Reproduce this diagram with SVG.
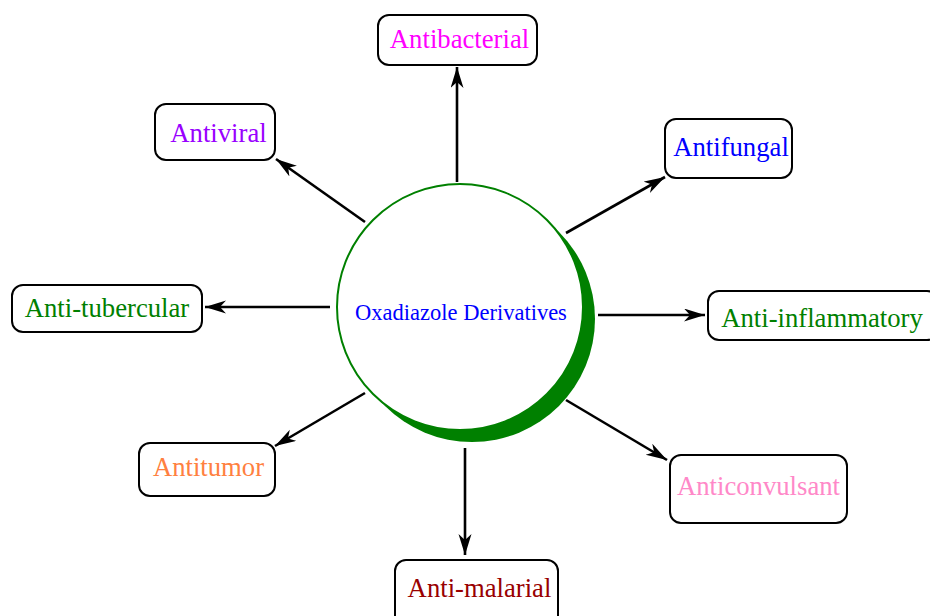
<svg xmlns="http://www.w3.org/2000/svg" width="930" height="616" viewBox="0 0 930 616">
<style>
.box{fill:#fff;stroke:#000;stroke-width:2}
.lbl{font-family:"Liberation Serif","Times New Roman",serif;font-size:26.7px}
.edge{stroke:#000;stroke-width:2.6;fill:none;marker-end:url(#ah)}
</style>
<defs>
<marker id="ah" markerUnits="userSpaceOnUse" markerWidth="24" markerHeight="14" refX="21" refY="6.5" orient="auto">
<path d="M0,0 L21,6.5 L0,13 L6,6.5 z" fill="#000"/>
</marker>
</defs>
<rect width="930" height="616" fill="#fff"/>
<g id="connectors">
<line class="edge" x1="457" y1="182" x2="457" y2="67"/>
<line class="edge" x1="566" y1="233" x2="665" y2="177"/>
<line class="edge" x1="598" y1="315" x2="705" y2="315"/>
<line class="edge" x1="566" y1="400" x2="667" y2="460"/>
<line class="edge" x1="465" y1="448" x2="465" y2="555"/>
<line class="edge" x1="365" y1="393" x2="275" y2="446"/>
<line class="edge" x1="330" y1="307" x2="205" y2="307"/>
<line class="edge" x1="365" y1="222" x2="276" y2="159"/>
</g>
<g id="center">
<circle cx="472" cy="319" r="123" fill="#008000"/>
<circle cx="460" cy="307" r="123" fill="#fff" stroke="#008000" stroke-width="2"/>
<text x="461" y="320" text-anchor="middle" font-family="Liberation Serif, Times New Roman, serif" font-size="22.5" fill="#0000ff">Oxadiazole Derivatives</text>
</g>
<g id="antibacterial">
<rect class="box" x="378" y="15" width="159" height="50" rx="11"/>
<text class="lbl" x="459.5" y="48" text-anchor="middle" fill="#ff00ff">Antibacterial</text>
</g>
<g id="antifungal">
<rect class="box" x="665" y="119" width="127" height="59" rx="11"/>
<text class="lbl" x="731" y="156" text-anchor="middle" fill="#0000ff">Antifungal</text>
</g>
<g id="antiinflammatory">
<rect class="box" x="708" y="291" width="230" height="49" rx="11"/>
<text class="lbl" x="822" y="327" text-anchor="middle" fill="#008000">Anti-inflammatory</text>
</g>
<g id="anticonvulsant">
<rect class="box" x="670" y="455" width="177" height="68" rx="11"/>
<text class="lbl" x="758.5" y="495" text-anchor="middle" fill="#ff88c8">Anticonvulsant</text>
</g>
<g id="antimalarial">
<rect class="box" x="395" y="560" width="163" height="70" rx="11"/>
<text class="lbl" x="479.5" y="597" text-anchor="middle" fill="#990000">Anti-malarial</text>
</g>
<g id="antitumor">
<rect class="box" x="139" y="443" width="136" height="53" rx="11"/>
<text class="lbl" x="208.5" y="476" text-anchor="middle" fill="#ff8040">Antitumor</text>
</g>
<g id="antitubercular">
<rect class="box" x="12" y="285" width="190" height="47" rx="11"/>
<text class="lbl" x="107" y="317" text-anchor="middle" fill="#008000">Anti-tubercular</text>
</g>
<g id="antiviral">
<rect class="box" x="155" y="104" width="120" height="56" rx="11"/>
<text class="lbl" x="218.5" y="142" text-anchor="middle" fill="#9900ff">Antiviral</text>
</g>
</svg>
